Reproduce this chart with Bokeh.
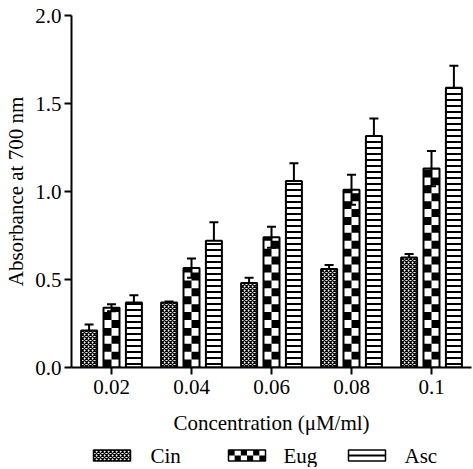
from bokeh.plotting import figure
from bokeh.layouts import column
from bokeh.models import (ColumnDataSource, FactorRange, Range1d, FixedTicker, Whisker,
                          NumeralTickFormatter)
from bokeh.core.properties import value
from bokeh.transform import dodge
from bokeh.embed import file_html
from bokeh.resources import INLINE

# ---------------- data ----------------
conc = ["0.02", "0.04", "0.06", "0.08", "0.1"]
cin = [0.21, 0.37, 0.48, 0.56, 0.625]
cin_err = [0.035, 0.005, 0.03, 0.022, 0.02]
eug = [0.34, 0.565, 0.74, 1.01, 1.13]
eug_err = [0.02, 0.055, 0.06, 0.085, 0.10]
asc = [0.37, 0.72, 1.06, 1.315, 1.59]
asc_err = [0.04, 0.105, 0.10, 0.10, 0.125]
y_ticks = [0.0, 0.5, 1.0, 1.5, 2.0]
series_labels = ["Cin", "Eug", "Asc"]

data = dict(conc=conc, cin=cin, eug=eug, asc=asc)
for name, vals, errs in (("cin", cin, cin_err), ("eug", eug, eug_err), ("asc", asc, asc_err)):
    data[name + "_hi"] = [v + e for v, e in zip(vals, errs)]
    data[name + "_lo"] = [v - e for v, e in zip(vals, errs)]
src = ColumnDataSource(data)

FONT = "Liberation Serif"
FS = "21px"
BL, BR, W = 71, 1, 472

# ---------------- main figure ----------------
p = figure(width=W, height=445, output_backend="svg", toolbar_location=None,
           x_range=FactorRange(*conc, range_padding=0), y_range=Range1d(0, 2.0),
           min_border_left=BL, min_border_right=BR, min_border_top=15, min_border_bottom=78)
p.outline_line_color = None
p.grid.visible = False

off = 0.28
bw = 0.2

CIN_HATCH = dict(hatch_pattern="diagonal_cross", hatch_scale=4, hatch_weight=1.3, hatch_color="black")
ASC_HATCH = dict(hatch_pattern="horizontal_line", hatch_scale=6, hatch_weight=2, hatch_color="black")

p.vbar(x=dodge("conc", -off, range=p.x_range), top="cin", width=bw, source=src,
       fill_color="white", line_color="black", line_width=2, **CIN_HATCH)

# Eug checkerboard: squares stacked up to each bar's value (two columns)
sq = 0.045
left = dict(conc=[], b=[], t=[])
right = dict(conc=[], b=[], t=[])
for c, v in zip(conc, eug):
    k = 0
    while k * sq < v:
        target = left if k % 2 == 0 else right
        target["conc"].append(c)
        target["b"].append(k * sq)
        target["t"].append(min((k + 1) * sq, v))
        k += 1
p.vbar(x=dodge("conc", -bw / 4, range=p.x_range), bottom="b", top="t", width=bw / 2,
       source=ColumnDataSource(left), fill_color="black", line_color=None)
p.vbar(x=dodge("conc", bw / 4, range=p.x_range), bottom="b", top="t", width=bw / 2,
       source=ColumnDataSource(right), fill_color="black", line_color=None)
p.vbar(x=dodge("conc", 0.0, range=p.x_range), top="eug", width=bw, source=src,
       fill_color=None, line_color="black", line_width=2)

p.vbar(x=dodge("conc", off, range=p.x_range), top="asc", width=bw, source=src,
       fill_color="white", line_color="black", line_width=2, **ASC_HATCH)

for name, o in (("cin", -off), ("eug", 0.0), ("asc", off)):
    w = Whisker(source=src, base=dodge("conc", o, range=p.x_range),
                upper=name + "_hi", lower=name + "_lo", dimension="height",
                line_color="black", line_width=2)
    w.upper_head.size = 9
    w.lower_head.size = 9
    w.upper_head.line_width = 2
    w.lower_head.line_width = 2
    p.add_layout(w)

ya = p.yaxis[0]
ya.ticker = FixedTicker(ticks=y_ticks)
ya.formatter = NumeralTickFormatter(format="0.0")
ya.axis_label = "Absorbance at 700 nm"
ya.minor_tick_line_color = None
ya.major_tick_in = 0
ya.major_tick_out = 7
ya.major_label_standoff = 3
ya.axis_label_standoff = 4

xa = p.xaxis[0]
xa.axis_label = "Concentration (\u03bcM/ml)"
xa.major_tick_in = 0
xa.major_tick_out = 7
xa.major_label_standoff = 5
xa.axis_label_standoff = 14

for ax in (xa, ya):
    ax.axis_line_width = 2
    ax.major_tick_line_width = 2
    ax.axis_line_color = "black"
    ax.major_tick_line_color = "black"
    ax.major_label_text_font = FONT
    ax.major_label_text_font_size = FS
    ax.major_label_text_color = "black"
    ax.axis_label_text_font = FONT
    ax.axis_label_text_font_size = FS
    ax.axis_label_text_font_style = "normal"
    ax.axis_label_text_color = "black"

# ---------------- legend strip ----------------
# its frame is aligned with the main frame, so map x in page pixels over that span
LH = 22
leg = figure(width=W, height=LH, output_backend="svg", toolbar_location=None,
             x_range=Range1d(BL, W - BR), y_range=Range1d(0, LH),
             x_axis_type=None, y_axis_type=None,
             min_border_left=BL, min_border_right=BR, min_border_top=0, min_border_bottom=0)
leg.outline_line_color = None
leg.grid.visible = False

sw_left = [93, 228, 348]
sw_w, sw_h, yc = 37, 11, 12
lab_x = [150, 283, 404]

leg.quad(left=[sw_left[0]], right=[sw_left[0] + sw_w], bottom=[yc - sw_h / 2], top=[yc + sw_h / 2],
         fill_color="white", line_color="black", line_width=1.5, **CIN_HATCH)
# Eug swatch checker
ncol, nrow = 6, 2
cw, rh = sw_w / ncol, sw_h / nrow
ql, qr, qb, qt = [], [], [], []
for r in range(nrow):
    for c in range(ncol):
        if (r + c) % 2 == 0:
            ql.append(sw_left[1] + c * cw)
            qr.append(sw_left[1] + (c + 1) * cw)
            qt.append(yc + sw_h / 2 - r * rh)
            qb.append(yc + sw_h / 2 - (r + 1) * rh)
leg.quad(left=ql, right=qr, bottom=qb, top=qt, fill_color="black", line_color=None)
leg.quad(left=[sw_left[1]], right=[sw_left[1] + sw_w], bottom=[yc - sw_h / 2], top=[yc + sw_h / 2],
         fill_color=None, line_color="black", line_width=1.5)
leg.quad(left=[sw_left[2]], right=[sw_left[2] + sw_w], bottom=[yc - sw_h / 2], top=[yc + sw_h / 2],
         fill_color="white", line_color="black", line_width=1.5)
leg.segment(x0=[sw_left[2]], x1=[sw_left[2] + sw_w], y0=[yc], y1=[yc], line_color="black", line_width=2)

leg.text(x=lab_x, y=[yc] * 3, text=series_labels, text_font=value(FONT), text_font_size=FS,
         text_baseline="middle", text_align="left", text_color="black")

layout = column(p, leg, spacing=0)
open("out.html", "w").write(file_html(layout, INLINE))
